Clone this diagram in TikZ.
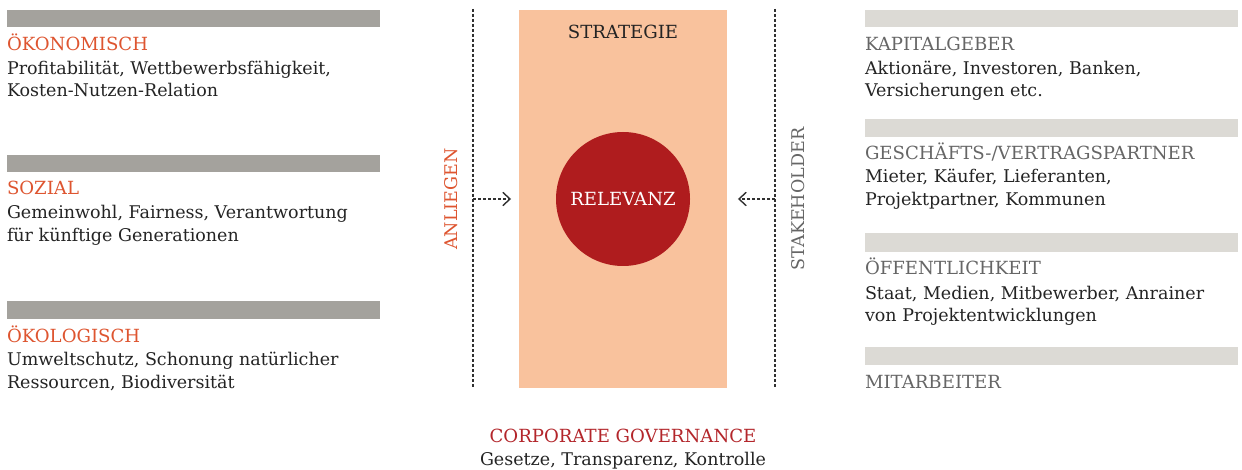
\documentclass[tikz,border=0pt]{standalone}
\usepackage{fontspec}
\setmainfont{DejaVu Serif}
\usetikzlibrary{arrows.meta}
\definecolor{barL}{HTML}{A4A29D}
\definecolor{barR}{HTML}{DCDAD5}
\definecolor{orangeH}{HTML}{DE5530}
\definecolor{redC}{HTML}{B3262B}
\definecolor{peach}{HTML}{F9C29D}
\definecolor{circ}{HTML}{AF1C1E}
\definecolor{grayH}{HTML}{666666}
\definecolor{txt}{HTML}{242424}
\definecolor{dash}{HTML}{303030}
\begin{document}
\begin{tikzpicture}[x=1pt,y=-1pt,
  every node/.style={inner sep=0pt, outer sep=0pt},
  fnt/.style={font=\fontsize{17.5}{22.5}\selectfont},
  capsfnt/.style={font=\fontsize{18.1}{22.5}\selectfont},
  body/.style={anchor=base west, fnt, text=txt},
  headL/.style={anchor=base west, capsfnt, text=orangeH},
  headR/.style={anchor=base west, capsfnt, text=grayH},
  dashline/.style={draw=dash, line width=1.4pt, dash pattern=on 3pt off 2pt},
  chevron/.style={draw=dash, line width=1.4pt, solid, line cap=round, line join=miter}
]
\useasboundingbox[fill=white] (0,0) rectangle (1242,470);
% left bars
\fill[barL] (7,10) rectangle (380,27);
\fill[barL] (7,155) rectangle (380,172);
\fill[barL] (7,301) rectangle (380,319);
% right bars
\fill[barR] (865,10) rectangle (1238,27);
\fill[barR] (865,119) rectangle (1238,137);
\fill[barR] (865,233) rectangle (1238,252);
\fill[barR] (865,347) rectangle (1238,365);
% left texts
\node[headL] (oek) at (7,51) {ÖKONOMISCH};
\node[body] (oek1) at (7,75) {Profitabilität, Wettbewerbsfähigkeit,};
\node[body] (oek2) at (7,97) {Kosten-Nutzen-Relation};
\node[headL] (soz) at (7,195) {SOZIAL};
\node[body] (soz1) at (7,219) {Gemeinwohl, Fairness, Verantwortung};
\node[body] (soz2) at (7,242) {für künftige Generationen};
\node[headL] (oeko) at (7,342) {ÖKOLOGISCH};
\node[body] (oeko1) at (7,365) {Umweltschutz, Schonung natürlicher};
\node[body] (oeko2) at (7,388) {Ressourcen, Biodiversität};
% right texts
\node[headR] (kap) at (865,51) {KAPITALGEBER};
\node[body] (kap1) at (865,75) {Aktionäre, Investoren, Banken,};
\node[body] (kap2) at (865,97) {Versicherungen etc.};
\node[headR] (ges) at (865,160) {GESCHÄFTS-/VERTRAGSPARTNER};
\node[body] (ges1) at (865,183) {Mieter, Käufer, Lieferanten,};
\node[body] (ges2) at (865,206) {Projektpartner, Kommunen};
\node[headR] (oef) at (865,275) {ÖFFENTLICHKEIT};
\node[body] (oef1) at (865,300) {Staat, Medien, Mitbewerber, Anrainer};
\node[body] (oef2) at (865,322) {von Projektentwicklungen};
\node[headR] (mit) at (865,388) {MITARBEITER};
% center
\node[fill=peach, minimum width=208pt, minimum height=378pt, anchor=north west] (strat) at (519,10) {};
\node[anchor=base, capsfnt, text=txt] (stratT) at (623,39) {STRATEGIE};
\node[circle, fill=circ, minimum size=134pt, text=white, capsfnt] (rel) at (623,199) {RELEVANZ};
% dashed lines
\coordinate (lt) at (473,9);
\coordinate (lb) at (473,388);
\coordinate (rt) at (775,9);
\coordinate (rb) at (775,388);
\draw[dashline] (lt) -- (lb);
\draw[dashline] (rt) -- (rb);
% arrows
\coordinate (la) at (473,199);
\coordinate (laE) at (510,199);
\coordinate (laA) at (503,192.5);
\coordinate (laB) at (503,205.5);
\coordinate (ra) at (775,199);
\coordinate (raE) at (739,199);
\coordinate (raA) at (746,192.5);
\coordinate (raB) at (746,205.5);
\draw[dashline] (la) -- (laE);
\draw[chevron] (laA) -- (laE) -- (laB);
\draw[dashline] (ra) -- (raE);
\draw[chevron] (raA) -- (raE) -- (raB);
\node[rotate=90, fnt, text=orangeH] (anl) at (451,199) {ANLIEGEN};
\node[rotate=90, fnt, text=grayH] (stk) at (798,199) {STAKEHOLDER};
\node[anchor=base, capsfnt, text=redC] (cg) at (623,442) {CORPORATE GOVERNANCE};
\node[anchor=base, fnt, text=txt] (cg1) at (623,465) {Gesetze, Transparenz, Kontrolle};
\end{tikzpicture}
\end{document}
